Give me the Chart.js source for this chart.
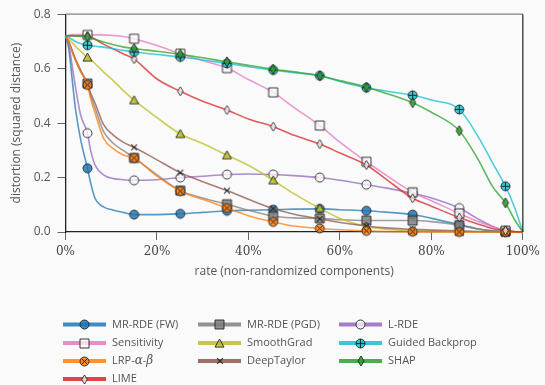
<!DOCTYPE html>
<html>
<head>
<meta charset="utf-8">
<script src="https://cdn.jsdelivr.net/npm/chart.js@4.4.1/dist/chart.umd.min.js"></script>
<style>
  html, body { margin: 0; padding: 0; background: #fafafa; }
  #wrap { width: 545px; height: 385px; }
</style>
</head>
<body>
<div id="wrap"><canvas id="distortionChart" width="545" height="385"></canvas></div>
<script>
// rate (%) sample positions, markers are drawn on a subset of them
const rate = [0, 0.7, 1.4, 2.2, 3.3, 4.8, 5.5, 6.5, 8.3, 10.5, 12.6, 15, 20, 25.1, 30, 35.3, 40, 45.4, 50, 55.6, 60, 65.8, 70, 75.9, 80, 86.1, 90, 93.5, 96.2, 98.2, 100];
const markerRates = [4.8, 15, 25.1, 35.3, 45.4, 55.6, 65.8, 75.9, 86.1, 96.2];
const xTicks = [0, 20, 40, 60, 80, 100];
const yTicks = [0, 0.2, 0.4, 0.6, 0.8];

const mrRdeFw = [0.72, 0.675, 0.57, 0.45, 0.34, 0.234, 0.18, 0.122, 0.092, 0.08, 0.072, 0.064, 0.064, 0.067, 0.072, 0.078, 0.08, 0.082, 0.084, 0.085, 0.082, 0.078, 0.073, 0.064, 0.05, 0.027, 0.012, 0.004, 0.001, 0, 0];
const mrRdePgd = [0.72, 0.70, 0.665, 0.63, 0.59, 0.545, 0.50, 0.454, 0.37, 0.325, 0.30, 0.272, 0.21, 0.152, 0.125, 0.102, 0.08, 0.058, 0.052, 0.05, 0.045, 0.042, 0.042, 0.042, 0.038, 0.025, 0.012, 0.004, 0.001, 0, 0];
const lRde = [0.72, 0.69, 0.617, 0.53, 0.43, 0.363, 0.30, 0.245, 0.21, 0.196, 0.192, 0.19, 0.192, 0.20, 0.205, 0.211, 0.213, 0.211, 0.207, 0.20, 0.19, 0.174, 0.162, 0.142, 0.125, 0.088, 0.05, 0.02, 0.004, 0.001, 0];
const sensitivity = [0.72, 0.722, 0.724, 0.725, 0.725, 0.724, 0.724, 0.724, 0.724, 0.722, 0.718, 0.71, 0.685, 0.655, 0.63, 0.602, 0.56, 0.513, 0.457, 0.391, 0.33, 0.258, 0.21, 0.146, 0.115, 0.068, 0.04, 0.018, 0.005, 0.001, 0];
const smoothGrad = [0.72, 0.71, 0.697, 0.682, 0.664, 0.641, 0.632, 0.618, 0.588, 0.555, 0.52, 0.484, 0.42, 0.36, 0.325, 0.282, 0.245, 0.19, 0.14, 0.087, 0.05, 0.02, 0.01, 0.005, 0.003, 0.001, 0, 0, 0, 0, 0];
const guidedBackprop = [0.72, 0.715, 0.708, 0.70, 0.692, 0.686, 0.684, 0.682, 0.679, 0.673, 0.667, 0.661, 0.652, 0.643, 0.632, 0.619, 0.607, 0.595, 0.585, 0.574, 0.553, 0.53, 0.518, 0.502, 0.485, 0.45, 0.357, 0.25, 0.168, 0.09, 0];
const lrpAlphaBeta = [0.72, 0.70, 0.665, 0.63, 0.59, 0.54, 0.49, 0.435, 0.345, 0.305, 0.283, 0.272, 0.205, 0.15, 0.12, 0.088, 0.06, 0.037, 0.022, 0.013, 0.008, 0.004, 0.002, 0.001, 0, 0, 0, 0, 0, 0, 0];
const deepTaylor = [0.72, 0.70, 0.67, 0.635, 0.595, 0.544, 0.51, 0.472, 0.395, 0.355, 0.33, 0.311, 0.265, 0.218, 0.185, 0.152, 0.12, 0.086, 0.065, 0.048, 0.035, 0.022, 0.015, 0.01, 0.007, 0.004, 0.002, 0.001, 0, 0, 0];
const shap = [0.72, 0.722, 0.722, 0.72, 0.718, 0.716, 0.713, 0.707, 0.698, 0.688, 0.68, 0.674, 0.664, 0.653, 0.64, 0.625, 0.612, 0.598, 0.588, 0.574, 0.556, 0.532, 0.51, 0.475, 0.44, 0.372, 0.273, 0.164, 0.107, 0.045, 0];
const lime = [0.72, 0.72, 0.72, 0.72, 0.721, 0.72, 0.716, 0.708, 0.69, 0.672, 0.655, 0.635, 0.562, 0.517, 0.48, 0.448, 0.415, 0.387, 0.355, 0.323, 0.29, 0.246, 0.195, 0.124, 0.095, 0.053, 0.03, 0.012, 0.005, 0.002, 0];

const markerIdx = markerRates.map((r) => rate.indexOf(r));

// small canvases used as point styles (matplotlib-like markers)
function makeMarker(shape, fill, size) {
  const c = document.createElement("canvas");
  c.width = c.height = size + 4;
  const g = c.getContext("2d");
  const m = c.width / 2;
  const r = size / 2;
  g.lineWidth = 1;
  g.strokeStyle = "rgba(35,35,35,0.9)";
  g.fillStyle = fill;
  g.beginPath();
  if (shape === "circle" || shape === "circlePlus" || shape === "circleX") {
    g.arc(m, m, r, 0, Math.PI * 2);
  } else if (shape === "square") {
    g.rect(m - r, m - r, 2 * r, 2 * r);
  } else if (shape === "triangle") {
    g.moveTo(m, m - r);
    g.lineTo(m + r, m + r * 0.8);
    g.lineTo(m - r, m + r * 0.8);
    g.closePath();
  } else if (shape === "thinDiamond") {
    g.moveTo(m, m - r);
    g.lineTo(m + r * 0.62, m);
    g.lineTo(m, m + r);
    g.lineTo(m - r * 0.62, m);
    g.closePath();
  }
  if (shape !== "x") {
    g.fill();
    g.stroke();
  }
  g.beginPath();
  if (shape === "circlePlus") {
    g.moveTo(m - r, m); g.lineTo(m + r, m);
    g.moveTo(m, m - r); g.lineTo(m, m + r);
  } else if (shape === "circleX" || shape === "x") {
    const d = r * 0.72;
    g.moveTo(m - d, m - d); g.lineTo(m + d, m + d);
    g.moveTo(m + d, m - d); g.lineTo(m - d, m + d);
    if (shape === "x") g.lineWidth = 1.3;
  }
  g.stroke();
  return c;
}

const series = [
  { label: "MR-RDE (FW)", data: mrRdeFw, color: "31,119,180", marker: makeMarker("circle", "rgba(31,119,180,0.85)", 9) },
  { label: "MR-RDE (PGD)", data: mrRdePgd, color: "127,127,127", marker: makeMarker("square", "rgba(127,127,127,0.85)", 9) },
  { label: "L-RDE", data: lRde, color: "148,103,189", marker: makeMarker("circle", "rgba(250,250,250,0.75)", 9) },
  { label: "Sensitivity", data: sensitivity, color: "227,119,194", marker: makeMarker("square", "rgba(250,250,250,0.75)", 9) },
  { label: "SmoothGrad", data: smoothGrad, color: "188,189,34", marker: makeMarker("triangle", "rgba(188,189,34,0.85)", 9) },
  { label: "DeepTaylor", data: deepTaylor, color: "140,86,75", marker: makeMarker("x", "none", 8) },
  { label: "LRP-α-β", data: lrpAlphaBeta, color: "255,127,14", marker: makeMarker("circleX", "rgba(255,127,14,0.85)", 9) },
  { label: "LIME", data: lime, color: "214,39,40", marker: makeMarker("thinDiamond", "rgba(250,250,250,0.7)", 9) },
  { label: "Guided Backprop", data: guidedBackprop, color: "23,190,207", marker: makeMarker("circlePlus", "rgba(23,190,207,0.85)", 9) },
  { label: "SHAP", data: shap, color: "44,160,44", marker: makeMarker("thinDiamond", "rgba(44,160,44,0.85)", 10) },
];

// legend grid, filled column by column like the original
const legendColumns = [
  ["MR-RDE (FW)", "Sensitivity", "LRP-α-β", "LIME"],
  ["MR-RDE (PGD)", "SmoothGrad", "DeepTaylor"],
  ["L-RDE", "Guided Backprop", "SHAP"],
];

function drawLabel(ctx, text, x, y) {
  const parts = text.split(/([αβ])/);
  let cx = x;
  parts.forEach((p) => {
    if (!p) return;
    ctx.font = /[αβ]/.test(p) ? "italic 12px 'DejaVu Serif'" : "11px 'Open Sans'";
    ctx.fillText(p, cx, y);
    cx += ctx.measureText(p).width;
  });
}

const frameAndLegend = {
  id: "frameAndLegend",
  afterDatasetsDraw(chart) {
    const { ctx, chartArea: a } = chart;
    ctx.save();
    ctx.lineWidth = 1.2;
    ctx.strokeStyle = "#808080";
    ctx.beginPath();
    ctx.moveTo(a.left, a.top);
    ctx.lineTo(a.right, a.top);
    ctx.stroke();
    ctx.strokeStyle = "#222";
    ctx.beginPath();
    ctx.moveTo(a.right, a.top);
    ctx.lineTo(a.right, a.bottom);
    ctx.stroke();
    ctx.restore();
  },
  afterDraw(chart) {
    const { ctx } = chart;
    const colX = [63, 198, 339];
    const rowY = [324.5, 343, 361, 379];
    ctx.save();
    ctx.textBaseline = "middle";
    ctx.fillStyle = "#555";
    legendColumns.forEach((col, ci) => {
      col.forEach((name, ri) => {
        const s = series.find((d) => d.label === name);
        const x = colX[ci];
        const y = rowY[ri];
        ctx.strokeStyle = `rgba(${s.color},0.85)`;
        ctx.lineWidth = 4;
        ctx.beginPath();
        ctx.moveTo(x, y);
        ctx.lineTo(x + 43, y);
        ctx.stroke();
        ctx.drawImage(s.marker, Math.round(x + 21.5 - s.marker.width / 2), Math.round(y - s.marker.height / 2));
        ctx.fillStyle = "#555";
        drawLabel(ctx, name, x + 49, y);
      });
    });
    ctx.restore();
  },
};

Chart.defaults.font.family = "'Open Sans', sans-serif";
Chart.defaults.color = "#555";

function initChart() {
  const ctx = document.getElementById("distortionChart").getContext("2d");
  const n = series.length;
  new Chart(ctx, {
    type: "line",
    data: {
      datasets: series.map((s, i) => ({
        label: s.label,
        data: rate.map((x, k) => ({ x, y: s.data[k] })),
        borderColor: `rgba(${s.color},0.75)`,
        borderWidth: 1.6,
        cubicInterpolationMode: "monotone",
        pointStyle: s.marker,
        pointRadius: (c) => (markerIdx.includes(c.dataIndex) ? 5 : 0),
        clip: false,
        order: n - i,
      })),
    },
    options: {
      responsive: false,
      animation: false,
      events: [],
      layout: { padding: { top: 11, right: 20, bottom: 103, left: 0 } },
      plugins: { legend: { display: false }, tooltip: { enabled: false } },
      scales: {
        x: {
          type: "linear",
          min: 0,
          max: 100,
          afterBuildTicks: (s) => { s.ticks = xTicks.map((v) => ({ value: v })); },
          afterFit: (s) => { s.height = 50; },
          ticks: {
            padding: 5,
            color: "#444",
            font: { family: "'DejaVu Serif', serif", size: 12 },
            callback: (v) => v + "%",
          },
          grid: { drawOnChartArea: false, tickLength: 8, color: "#666", tickWidth: 1 },
          border: { color: "#222", width: 1.3 },
          title: { display: true, text: "rate (non-randomized components)", font: { size: 12 }, color: "#555", padding: { bottom: 3 } },
        },
        y: {
          min: 0,
          max: 0.8,
          afterBuildTicks: (s) => { s.ticks = yTicks.map((v) => ({ value: v })); },
          afterFit: (s) => { s.width = 65.5; },
          ticks: {
            padding: 7,
            color: "#555",
            font: { size: 12 },
            callback: (v) => v.toFixed(1),
          },
          grid: { drawOnChartArea: false, tickLength: 8, color: "#666", tickWidth: 1 },
          border: { color: "#222", width: 1.3 },
          title: { display: true, text: "distortion (squared distance)", font: { size: 12 }, color: "#555", padding: { top: 9 } },
        },
      },
    },
    plugins: [frameAndLegend],
  });
}

document.addEventListener("DOMContentLoaded", initChart);
</script>
</body>
</html>
